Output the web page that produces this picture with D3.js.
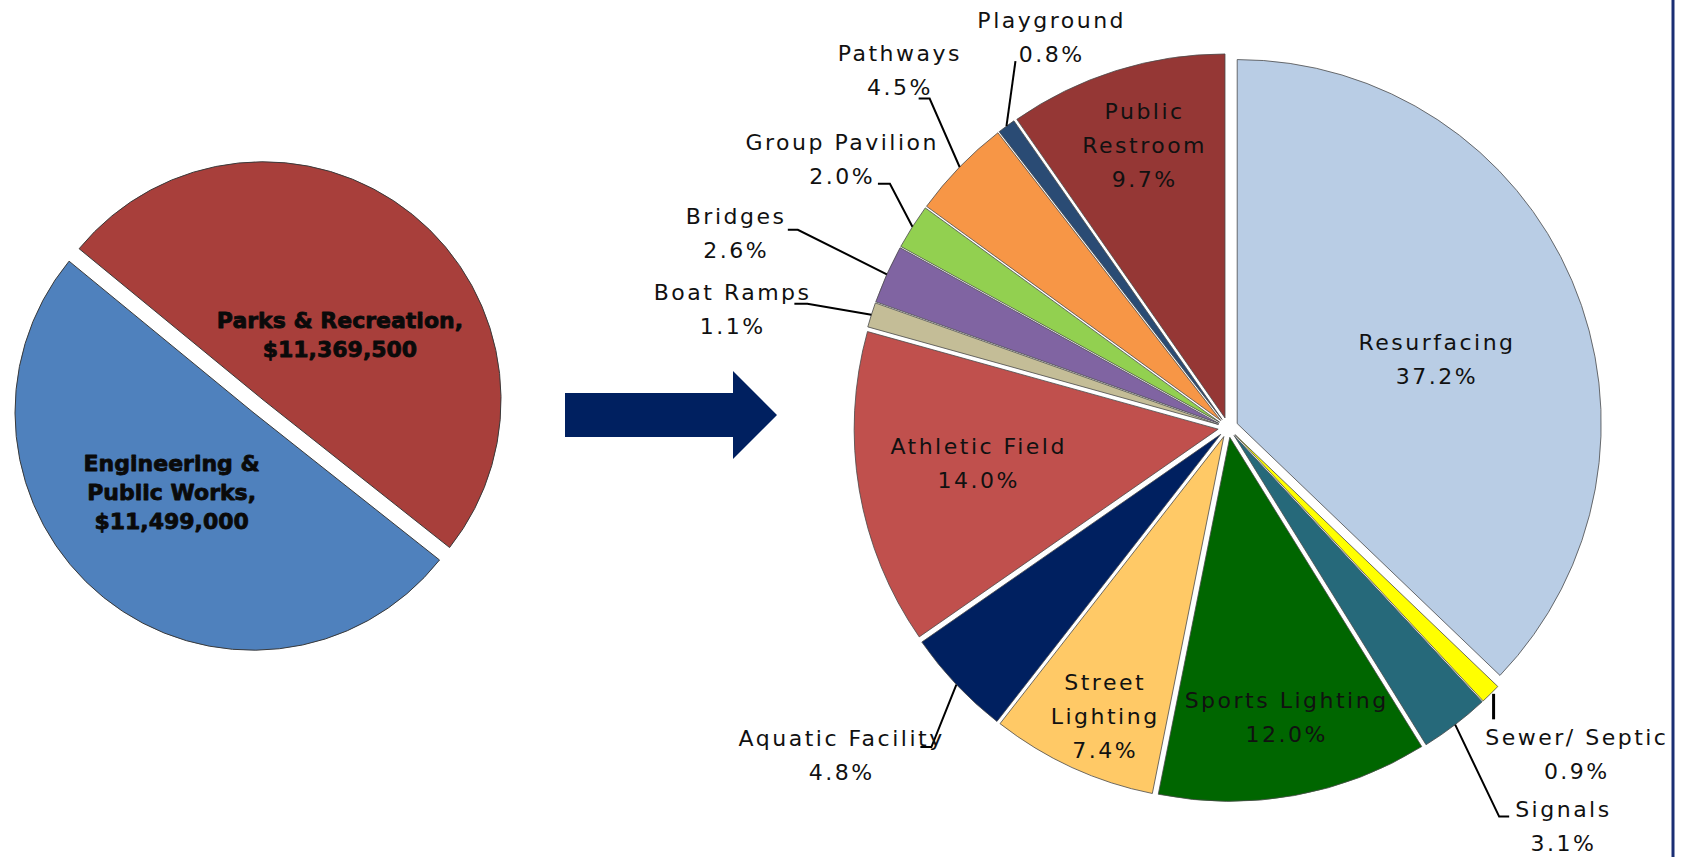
<!DOCTYPE html>
<html><head><meta charset="utf-8">
<script src="https://cdn.jsdelivr.net/npm/d3@7"></script>
<style>html,body{margin:0;padding:0;background:#fff;overflow:hidden}</style>
</head><body>
<svg id="chart" width="1682" height="857"></svg>
<script>
// ---------------- data ----------------
const deptNames = ["Parks & Recreation", "Engineering & Public Works"];
const deptLabelLines = [["Parks & Recreation,"], ["Engineering &", "Public Works,"]];
const deptBudget = [11369500, 11499000];
const deptColors = ["#A83F3B", "#4F81BD"];

const projectNames = ["Resurfacing", "Sewer/ Septic", "Signals", "Sports Lighting", "Street Lighting",
  "Aquatic Facility", "Athletic Field", "Boat Ramps", "Bridges", "Group Pavilion", "Pathways",
  "Playground", "Public Restroom"];
const projectLabelLines = [["Resurfacing"], ["Sewer/ Septic"], ["Signals"], ["Sports Lighting"], ["Street", "Lighting"],
  ["Aquatic Facility"], ["Athletic Field"], ["Boat Ramps"], ["Bridges"], ["Group Pavilion"], ["Pathways"],
  ["Playground"], ["Public", "Restroom"]];
const projectShare = [37.2, 0.9, 3.1, 12.0, 7.4, 4.8, 14.0, 1.1, 2.6, 2.0, 4.5, 0.8, 9.7];
const projectColors = ["#B9CDE5", "#FFFF00", "#26697A", "#006600", "#FFC966", "#002060", "#C0504D",
  "#C4BD97", "#8064A2", "#92D050", "#F79646", "#2A4B74", "#953735"];

// ---------------- layout (positions / styles) ----------------
const layout = {
  left: { cx: 258, cy: 406, r: 238, explode: 8, startDeg: -50.6,
          labelPolar: [[10.6, 0.425], [6.5, 0.48]], lineH: 29, capH: 16, fontSize: 22 },
  right: { cx: 1228, cy: 427.5, r: 364, explode: 10, lineH: 34, capH: 16, fontSize: 22, letterSpacing: 2.5 },
  inside: {
    "Resurfacing": [5, 0.574], "Public Restroom": [0.8, 0.783], "Athletic Field": [1.6, 0.668],
    "Sports Lighting": [-1, 0.783], "Street Lighting": [-1.4, 0.835]
  },
  outside: {
    "Playground":       { label: [44, -98],    leader: [[0, 0], [9, -65]] },
    "Pathways":         { label: [-61, -106.5], leader: [[0, 0], [-30, -68.5], [-41, -68.5]] },
    "Group Pavilion":   { label: [-71.5, -77], leader: [[0, 0], [-22.5, -43], [-34.5, -43]] },
    "Bridges":          { label: [-152, -50.5], leader: [[0, 0], [-89, -44.5], [-99, -44.5]] },
    "Boat Ramps":       { label: [-140, -15],  leader: [[0, 0], [-64, -11], [-77, -11]] },
    "Aquatic Facility": { label: [-116, 61.5], leader: [[0, 0], [-25, 62.5], [-36, 62.5]] },
    "Sewer/ Septic":    { label: [85, 51.5],   leader: [[3, 0], [3, 25.5]], width: 3 },
    "Signals":          { label: [107, 92],    leader: [[0, 0], [44, 92], [54, 92]] }
  },
  arrow: { x0: 565, x1: 733, x2: 777, yTop: 393, yBot: 437, headTop: 371, headBot: 459, color: "#002060" },
  frameLine: { x: 1673, color: "#1B2E74", width: 3 }
};

const svg = d3.select("#chart");
const rad = d => d * Math.PI / 180;
const polar = (a, r) => [Math.sin(a) * r, -Math.cos(a) * r];

// ---------------- left pie ----------------
{
  const L = layout.left;
  const start = rad(L.startDeg);
  const pie = d3.pie().sort(null).value(d => d.v).startAngle(start).endAngle(start + 2 * Math.PI);
  const data = deptNames.map((n, i) => ({ n, v: deptBudget[i], c: deptColors[i], lines: deptLabelLines[i] }));
  const arcs = pie(data);
  const arc = d3.arc().innerRadius(0).outerRadius(L.r);
  const fmt = d3.format("$,");
  const g = svg.append("g").attr("transform", `translate(${L.cx},${L.cy})`);
  arcs.forEach((a, i) => {
    const mid = (a.startAngle + a.endAngle) / 2;
    const off = polar(mid, L.explode);
    const sg = g.append("g").attr("transform", `translate(${off[0]},${off[1]})`);
    sg.append("path").attr("d", arc(a)).attr("fill", a.data.c)
      .attr("stroke", "#3a3a3a").attr("stroke-width", 1);
    const lp = L.labelPolar[i];
    const c = polar(mid + rad(lp[0]), lp[1] * L.r);
    const lines = a.data.lines.concat([fmt(a.data.v)]);
    const b1 = c[1] + L.capH / 2 - (lines.length - 1) * L.lineH / 2;
    const t = sg.append("text").attr("text-anchor", "middle")
      .attr("font-family", "'DejaVu Sans', sans-serif").attr("font-weight", "bold")
      .attr("font-size", L.fontSize).attr("fill", "#0a0a0a")
      .attr("stroke", "#0a0a0a").attr("stroke-width", 0.8).attr("stroke-linejoin", "round");
    lines.forEach((ln, j) => t.append("tspan").attr("x", c[0]).attr("y", b1 + j * L.lineH).text(ln));
  });
}

// ---------------- arrow ----------------
{
  const A = layout.arrow;
  const mid = (A.yTop + A.yBot) / 2;
  svg.append("path")
    .attr("d", `M${A.x0},${A.yTop}L${A.x1},${A.yTop}L${A.x1},${A.headTop}L${A.x2},${mid}L${A.x1},${A.headBot}L${A.x1},${A.yBot}L${A.x0},${A.yBot}Z`)
    .attr("fill", A.color);
}

// ---------------- right pie ----------------
{
  const R = layout.right;
  const pie = d3.pie().sort(null).value(d => d.v);
  const data = projectNames.map((n, i) => ({ n, v: projectShare[i], c: projectColors[i], lines: projectLabelLines[i] }));
  const arcs = pie(data);
  const arc = d3.arc().innerRadius(0).outerRadius(R.r);
  const fmt = d => d3.format(".1f")(d) + "%";
  const g = svg.append("g").attr("transform", `translate(${R.cx},${R.cy})`);
  const slices = g.append("g");
  const leaders = g.append("g");
  const labels = g.append("g")
    .attr("font-family", "'DejaVu Sans', sans-serif").attr("font-size", R.fontSize)
    .attr("letter-spacing", R.letterSpacing).attr("fill", "#111").attr("text-anchor", "middle");

  arcs.forEach(a => {
    const mid = (a.startAngle + a.endAngle) / 2;
    const off = polar(mid, R.explode);
    slices.append("path").attr("d", arc(a))
      .attr("transform", `translate(${off[0]},${off[1]})`)
      .attr("fill", a.data.c).attr("stroke", "#4a4a4a").attr("stroke-width", 0.8);

    const lines = a.data.lines.concat([fmt(a.data.v)]);
    const ins = layout.inside[a.data.n];
    const outs = layout.outside[a.data.n];
    if (ins) {
      const c = polar(mid + rad(ins[0]), ins[1] * R.r);
      const cx = c[0] + off[0], cy = c[1] + off[1];
      const b1 = cy + R.capH / 2 - (lines.length - 1) * R.lineH / 2;
      const t = labels.append("text");
      lines.forEach((ln, j) => t.append("tspan").attr("x", cx + R.letterSpacing / 2).attr("y", b1 + j * R.lineH).text(ln));
    } else if (outs) {
      const p = polar(mid, R.r + R.explode);
      const pts = outs.leader.map(q => [p[0] + q[0], p[1] + q[1]]);
      leaders.append("path").attr("d", d3.line()(pts))
        .attr("fill", "none").attr("stroke", "#000").attr("stroke-width", outs.width || 2);
      const lx = p[0] + outs.label[0], ly = p[1] + outs.label[1];
      const t = labels.append("text");
      lines.forEach((ln, j) => t.append("tspan").attr("x", lx + R.letterSpacing / 2).attr("y", ly + j * R.lineH).text(ln));
    }
  });
}

// ---------------- frame line at right ----------------
{
  const F = layout.frameLine;
  svg.append("line").attr("x1", F.x).attr("x2", F.x).attr("y1", 0).attr("y2", 857)
    .attr("stroke", F.color).attr("stroke-width", F.width);
}
</script>
</body></html>
